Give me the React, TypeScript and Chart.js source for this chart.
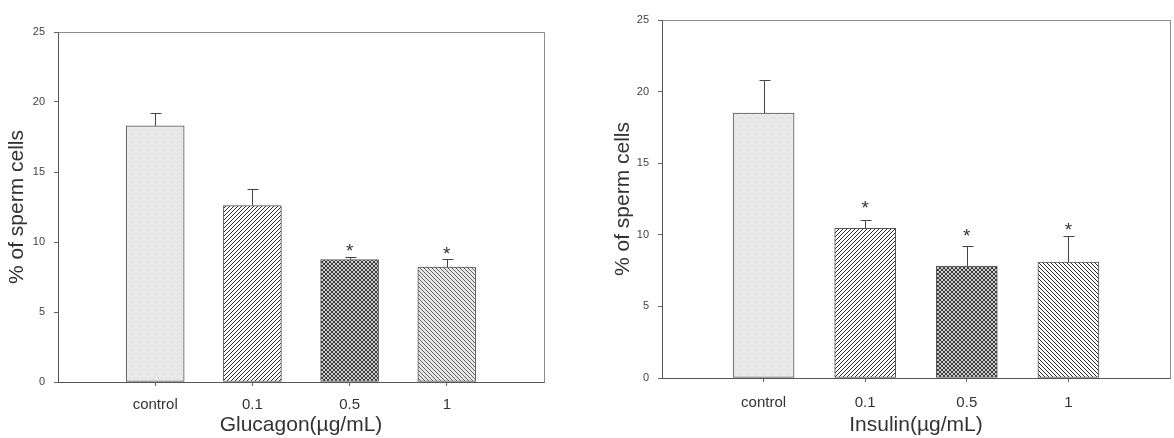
import React, { useEffect, useRef } from 'react';
import { Chart, registerables } from 'chart.js';

Chart.register(...registerables);

// ---- data ----
const categories = ['control', '0.1', '0.5', '1'];
const yTicks = [0, 5, 10, 15, 20, 25];

const glucagonMeans = [18.3, 12.6, 8.75, 8.2];
const glucagonErrors = [0.9, 1.15, 0.18, 0.6];
const glucagonStars = [null, null, 9.7, 9.5];

const insulinMeans = [18.5, 10.45, 7.82, 8.1];
const insulinErrors = [2.3, 0.6, 1.38, 1.82];
const insulinStars = [null, 12.2, 10.3, 10.7];

const FONT = '"Liberation Sans", Arial, Helvetica, sans-serif';

type Kind = 'speckle' | 'fwd' | 'back' | 'cross';

function makePattern(kind: Kind, fg: string, bg: string): CanvasPattern | string {
  const c = document.createElement('canvas');
  const s = kind === 'speckle' ? 8 : 4;
  c.width = s;
  c.height = s;
  const g = c.getContext('2d');
  if (!g) return bg;
  g.fillStyle = bg;
  g.fillRect(0, 0, s, s);
  g.fillStyle = fg;
  if (kind === 'speckle') {
    const pts = [[1, 2], [5, 6], [3, 5], [6, 1]];
    pts.forEach(([x, y]) => g.fillRect(x, y, 1, 1));
  } else {
    for (let i = 0; i < s; i++) {
      if (kind === 'fwd' || kind === 'cross') g.fillRect(i, s - 1 - i, 1, 1);
      if (kind === 'back' || kind === 'cross') g.fillRect(i, i, 1, 1);
    }
  }
  const p = g.createPattern(c, 'repeat');
  return p || bg;
}

type Cfg = {
  means: number[];
  errors: number[];
  stars: (number | null)[];
  xTitle: string;
  yAxisWidth: number;
  xAxisHeight: number;
  padding: { left: number; right: number; top: number; bottom: number };
  yTitlePad: number;
  xTickPad: number;
  barThickness: number;
  lastLight: boolean;
};

function BarPanel({ cfg, width, height }: { cfg: Cfg; width: number; height: number }) {
  const ref = useRef<HTMLCanvasElement | null>(null);
  useEffect(() => {
    if (!ref.current) return;
    const fills = [
      makePattern('speckle', '#d2d2d2', '#e9e9e9'),
      makePattern('fwd', '#2a2a2a', '#ffffff'),
      makePattern('cross', '#3c3c3c', '#cdcdcd'),
      makePattern('back', cfg.lastLight ? '#666666' : '#2a2a2a', cfg.lastLight ? '#e6e6e6' : '#ffffff'),
    ];
    const labels = ['', ...categories, ''];
    const overlay = {
      id: 'overlay',
      afterDatasetsDraw(chart: any) {
        const { ctx, chartArea, scales } = chart;
        const meta = chart.getDatasetMeta(0);
        ctx.save();
        // frame (top + right)
        ctx.strokeStyle = '#8c8c8c';
        ctx.lineWidth = 1;
        ctx.beginPath();
        ctx.moveTo(Math.round(chartArea.left) + 0.5, Math.round(chartArea.top) + 0.5);
        ctx.lineTo(Math.round(chartArea.right) + 0.5, Math.round(chartArea.top) + 0.5);
        ctx.lineTo(Math.round(chartArea.right) + 0.5, Math.round(chartArea.bottom) + 0.5);
        ctx.stroke();
        // error bars
        ctx.strokeStyle = '#444';
        cfg.means.forEach((m, i) => {
          const el = meta.data[i + 1];
          if (!el) return;
          const x = Math.round(el.x) + 0.5;
          const y0 = scales.y.getPixelForValue(m);
          const y1 = Math.round(scales.y.getPixelForValue(m + cfg.errors[i])) + 0.5;
          ctx.beginPath();
          ctx.moveTo(x, y0);
          ctx.lineTo(x, y1);
          ctx.moveTo(x - 5, y1);
          ctx.lineTo(x + 6, y1);
          ctx.stroke();
          const st = cfg.stars[i];
          if (st !== null && st !== undefined) {
            ctx.fillStyle = '#333';
            ctx.font = `19px ${FONT}`;
            ctx.textAlign = 'center';
            ctx.textBaseline = 'alphabetic';
            ctx.fillText('*', el.x, scales.y.getPixelForValue(st) + 11);
          }
        });
        ctx.restore();
      },
    };
    const chart = new Chart(ref.current, {
      type: 'bar',
      data: {
        labels,
        datasets: [
          {
            data: [null, ...cfg.means, null],
            backgroundColor: ['rgba(0,0,0,0)', ...fills, 'rgba(0,0,0,0)'] as any,
            borderColor: '#555',
            borderWidth: 1,
            borderSkipped: false,
            barThickness: cfg.barThickness,
          },
        ],
      },
      options: {
        responsive: false,
        animation: false,
        events: [],
        layout: { padding: cfg.padding },
        plugins: { legend: { display: false }, tooltip: { enabled: false } },
        scales: {
          x: {
            type: 'category',
            offset: false,
            afterFit: (s: any) => {
              s.height = cfg.xAxisHeight;
            },
            grid: {
              offset: false,
              drawOnChartArea: false,
              tickLength: 4,
              tickColor: (c: any) => (c.index === 0 || c.index === labels.length - 1 ? 'rgba(0,0,0,0)' : '#666'),
            },
            border: { display: true, color: '#555', width: 1 },
            ticks: {
              color: '#333',
              font: { family: FONT, size: 15 },
              padding: cfg.xTickPad,
              maxRotation: 0,
              autoSkip: false,
            },
            title: {
              display: true,
              text: cfg.xTitle,
              color: '#333',
              font: { family: FONT, size: 21, lineHeight: 1 },
              padding: { top: 0, bottom: 2 },
            },
          },
          y: {
            min: 0,
            max: 25,
            afterFit: (s: any) => {
              s.width = cfg.yAxisWidth;
            },
            afterBuildTicks: (s: any) => {
              s.ticks = yTicks.map((v) => ({ value: v }));
            },
            grid: { drawOnChartArea: false, tickLength: 4, tickColor: '#666' },
            border: { display: true, color: '#555', width: 1 },
            ticks: {
              color: '#444',
              font: { family: FONT, size: 11 },
              padding: 9,
            },
            title: {
              display: true,
              text: '% of sperm cells',
              color: '#333',
              font: { family: FONT, size: 21, lineHeight: 1 },
              padding: { top: cfg.yTitlePad, bottom: 0 },
            },
          },
        },
      },
      plugins: [overlay],
    });
    return () => chart.destroy();
  }, [cfg]);
  return <canvas ref={ref} width={width} height={height} />;
}

const leftCfg: Cfg = {
  means: glucagonMeans,
  errors: glucagonErrors,
  stars: glucagonStars,
  xTitle: 'Glucagon(µg/mL)',
  yAxisWidth: 58,
  xAxisHeight: 56,
  padding: { left: 0, right: 36, top: 32, bottom: 0 },
  yTitlePad: 7,
  xTickPad: 10,
  barThickness: 58,
  lastLight: true,
};

const rightCfg: Cfg = {
  means: insulinMeans,
  errors: insulinErrors,
  stars: insulinStars,
  xTitle: 'Insulin(µg/mL)',
  yAxisWidth: 62,
  xAxisHeight: 60,
  padding: { left: 0, right: 0, top: 20, bottom: 0 },
  yTitlePad: 13,
  xTickPad: 12,
  barThickness: 61,
  lastLight: false,
};

export default function App() {
  return (
    <div style={{ position: 'absolute', left: 0, top: 0, width: 1174, height: 438, background: '#fff', overflow: 'hidden' }}>
      <div style={{ position: 'absolute', left: 0, top: 0, width: 580, height: 438 }}>
        <BarPanel cfg={leftCfg} width={580} height={438} />
      </div>
      <div style={{ position: 'absolute', left: 600, top: 0, width: 582, height: 438 }}>
        <BarPanel cfg={rightCfg} width={582} height={438} />
      </div>
    </div>
  );
}
